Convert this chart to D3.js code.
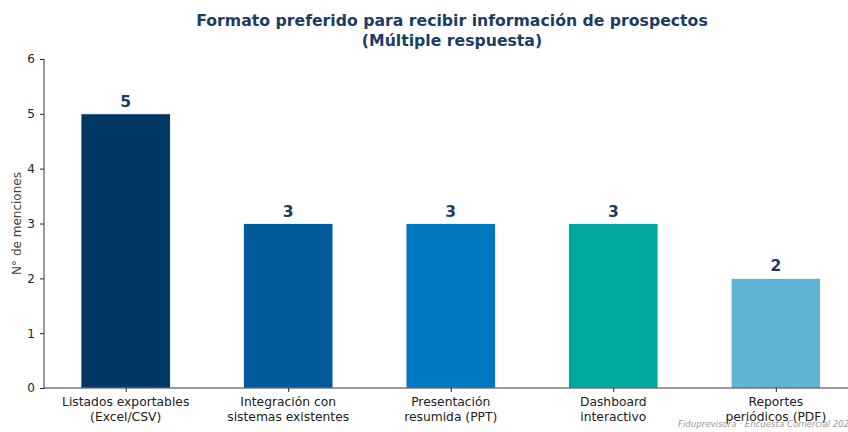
<!DOCTYPE html>
<html>
<head>
<meta charset="utf-8">
<style>
  body { margin: 0; background: #fff; }
  svg text { font-family: "DejaVu Sans", sans-serif; }
</style>
</head>
<body>
<svg width="848" height="432"></svg>
<script src="https://cdn.jsdelivr.net/npm/d3@7"></script>
<script>
  var categories = [
    ["Listados exportables", "(Excel/CSV)"],
    ["Integración con", "sistemas existentes"],
    ["Presentación", "resumida (PPT)"],
    ["Dashboard", "interactivo"],
    ["Reportes", "periódicos (PDF)"]
  ];
  var values = [5, 3, 3, 3, 2];
  var colors = ["#003865", "#005a9c", "#0077c0", "#00a99d", "#61b3d4"];
  var yTicks = [0, 1, 2, 3, 4, 5, 6];

  var svg = d3.select("svg");
  var mLeft = 44, mRight = 857.5, mTop = 59, mBottom = 388;

  // matplotlib-like x limits: bar width 0.55 plus 5% margin
  var x = d3.scaleLinear().domain([-0.5025, 4.5025]).range([mLeft, mRight]);
  var y = d3.scaleLinear().domain([0, 6]).range([mBottom, mTop]);
  var barW = x(0.55) - x(0);

  var g = svg.append("g");

  g.selectAll(".bar").data(values).enter().append("rect")
    .attr("x", function(d, i) { return x(i) - barW / 2; })
    .attr("y", function(d) { return y(d); })
    .attr("width", barW)
    .attr("height", function(d) { return y(0) - y(d); })
    .attr("fill", function(d, i) { return colors[i]; })
    .attr("stroke", "#fff")
    .attr("stroke-width", 0.8);

  g.selectAll(".val").data(values).enter().append("text")
    .attr("x", function(d, i) { return x(i); })
    .attr("y", function(d) { return y(d) - 7; })
    .attr("text-anchor", "middle")
    .attr("font-size", "15.5px")
    .attr("font-weight", "bold")
    .attr("fill", "#1a3d66")
    .text(function(d) { return d; });

  // y axis
  var yAxis = d3.axisLeft(y).tickValues(yTicks).tickFormat(d3.format("d")).tickSize(4).tickPadding(5);
  var ya = svg.append("g").attr("transform", "translate(" + mLeft + ",0)").call(yAxis);
  ya.select(".domain").attr("d", "M0," + mTop + "V" + mBottom).attr("stroke", "#222").attr("stroke-width", 0.9);
  ya.selectAll(".tick line").attr("stroke", "#222");
  ya.selectAll(".tick text").attr("font-size", "12px").attr("fill", "#222").attr("font-family", "DejaVu Sans");

  // x axis
  var xAxis = d3.axisBottom(x).tickValues(d3.range(categories.length)).tickSize(4).tickFormat("");
  var xa = svg.append("g").attr("transform", "translate(0," + mBottom + ")").call(xAxis);
  xa.select(".domain").attr("d", "M" + mLeft + ",0H" + mRight).attr("stroke", "#222").attr("stroke-width", 0.9);
  xa.selectAll(".tick line").attr("stroke", "#222");

  var xl = svg.append("g").selectAll("text").data(categories).enter().append("text")
    .attr("text-anchor", "middle")
    .attr("font-size", "12.3px")
    .attr("fill", "#222");
  xl.each(function(d, i) {
    var t = d3.select(this);
    d.forEach(function(line, k) {
      t.append("tspan").attr("x", x(i)).attr("y", 406 + k * 14.5).text(line);
    });
  });

  // y label
  svg.append("text")
    .attr("transform", "translate(21," + ((mTop + mBottom) / 2) + ") rotate(-90)")
    .attr("text-anchor", "middle")
    .attr("font-size", "12px")
    .attr("fill", "#444")
    .text("N° de menciones");

  // title
  var title = svg.append("text")
    .attr("text-anchor", "middle")
    .attr("font-size", "15.7px")
    .attr("font-weight", "bold")
    .attr("fill", "#1a3d66");
  title.append("tspan").attr("x", 452).attr("y", 26).text("Formato preferido para recibir información de prospectos");
  title.append("tspan").attr("x", 452).attr("y", 46).text("(Múltiple respuesta)");

  // source note
  svg.append("text")
    .attr("x", 678)
    .attr("y", 427)
    .attr("font-size", "8.6px")
    .attr("font-style", "italic")
    .attr("fill", "#999")
    .text("Fiduprevisora · Encuesta Comercial 2024");
</script>
</body>
</html>
